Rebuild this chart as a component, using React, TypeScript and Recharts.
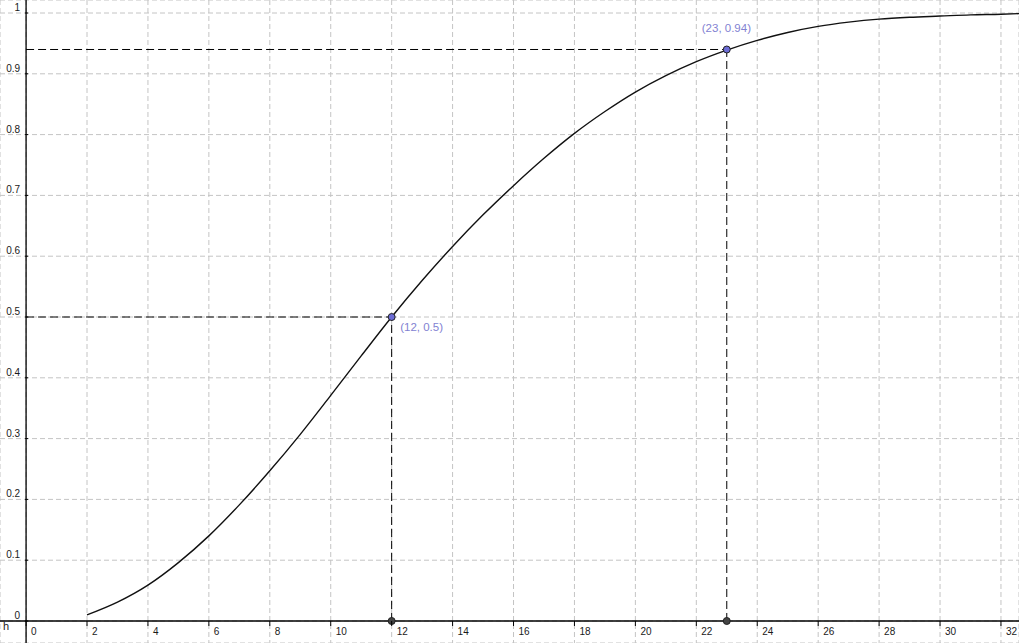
import { LineChart, Line, XAxis, YAxis, CartesianGrid, ReferenceLine, ReferenceDot } from 'recharts';

const W = 1019;
const H = 643;

// visible window of the graphics view
const X_MIN = -0.856;
const X_MAX = 32.592;
const Y_MIN = -0.0362;
const Y_MAX = 1.0214;

const hValues = [2, 3, 4, 5, 6, 7, 8, 9, 10, 11, 12, 13, 14, 15, 16, 17, 18, 19, 20, 21, 22, 23, 24, 25, 26, 27, 28, 29, 30, 31, 32, 32.6];
const pValues = [
  0.01, 0.031, 0.059, 0.096, 0.14, 0.191, 0.247, 0.307, 0.371, 0.436, 0.5, 0.56, 0.616, 0.668, 0.716, 0.761,
  0.802, 0.838, 0.87, 0.897, 0.92, 0.939, 0.955, 0.968, 0.978, 0.985, 0.99, 0.993, 0.995, 0.997, 0.998, 0.999,
];

const xTicks = [0, 2, 4, 6, 8, 10, 12, 14, 16, 18, 20, 22, 24, 26, 28, 30, 32];
const yTicks = [0, 0.1, 0.2, 0.3, 0.4, 0.5, 0.6, 0.7, 0.8, 0.9, 1];

const markedH = [12, 23];
const markedP = [0.5, 0.94];
const markedLabels = ['(12, 0.5)', '(23, 0.94)'];

const data = hValues.map((h, i) => ({ h, p: pValues[i] }));

const FONT = '"Liberation Sans", Arial, sans-serif';
const LABEL_BLUE = '#8282d2';

// pixel position of the axes (plot area == whole chart, no margins)
const X0 = (W * (0 - X_MIN)) / (X_MAX - X_MIN);
const Y0 = (H * Y_MAX) / (Y_MAX - Y_MIN);

function XTick(props: any) {
  const { x, payload } = props;
  return (
    <g>
      <line x1={x} x2={x} y1={Y0} y2={Y0 + 5} stroke="#000" />
      <text x={x + 5} y={Y0 + 14} fontSize={10} fontFamily={FONT} fill="#1a1a1a" textAnchor="start">
        {payload.value}
      </text>
    </g>
  );
}

function YTick(props: any) {
  const { y, payload } = props;
  return (
    <g>
      <line x1={X0 - 1} x2={X0 + 2} y1={y} y2={y} stroke="#000" />
      <text x={X0 - 6} y={y - 2} fontSize={10} fontFamily={FONT} fill="#1a1a1a" textAnchor="end">
        {payload.value}
      </text>
    </g>
  );
}

function pointLabel(text: string, dx: number, dy: number) {
  return (props: any) => {
    const vb = props.viewBox;
    const cx = vb.x + vb.width / 2;
    const cy = vb.y + vb.height / 2;
    return (
      <text x={cx + dx} y={cy + dy} fontSize={11.5} fontFamily={FONT} fill={LABEL_BLUE}>
        {text}
      </text>
    );
  };
}

const labelOffsets = [
  [8.5, 14],
  [-25, -17.5],
];

export default function App() {
  return (
    <div style={{ position: 'absolute', left: 0, top: 0, width: W, height: H, background: '#fff' }}>
      <LineChart width={W} height={H} data={data} margin={{ top: 0, right: 0, bottom: 0, left: 0 }}>
        <CartesianGrid stroke="#c4c4c4" strokeDasharray="5 3" />
        <XAxis
          type="number"
          dataKey="h"
          domain={[X_MIN, X_MAX]}
          allowDataOverflow
          ticks={xTicks}
          interval={0}
          mirror
          axisLine={false}
          tickLine={false}
          tick={XTick}
        />
        <YAxis
          type="number"
          domain={[Y_MIN, Y_MAX]}
          allowDataOverflow
          ticks={yTicks}
          interval={0}
          mirror
          axisLine={false}
          tickLine={false}
          tick={YTick}
        />
        {markedH.map((h, i) => (
          <ReferenceLine
            key={`hz-${i}`}
            segment={[{ x: 0, y: markedP[i] }, { x: h, y: markedP[i] }]}
            stroke="#000"
            strokeDasharray="8 4"
          />
        ))}
        {markedH.map((h, i) => (
          <ReferenceLine
            key={`vt-${i}`}
            segment={[{ x: h, y: 0 }, { x: h, y: markedP[i] }]}
            stroke="#000"
            strokeDasharray="8 4"
          />
        ))}
        <ReferenceLine x={0} stroke="#000" strokeWidth={1.3} />
        <ReferenceLine
          y={0}
          stroke="#000"
          strokeWidth={1.3}
          label={(props: any) => (
            <text x={props.viewBox.x + 3} y={props.viewBox.y + 9} fontSize={11} fontFamily={FONT} fill="#1a1a1a">
              h
            </text>
          )}
        />
        <Line
          type="monotone"
          dataKey="p"
          stroke="#111"
          strokeWidth={1.4}
          dot={false}
          activeDot={false}
          isAnimationActive={false}
        />
        {markedH.map((h, i) => (
          <ReferenceDot key={`base-${i}`} x={h} y={0} r={3.5} fill="#444" stroke="#222" strokeWidth={1} />
        ))}
        {markedH.map((h, i) => (
          <ReferenceDot
            key={`pt-${i}`}
            x={h}
            y={markedP[i]}
            r={3.5}
            fill="#6c6cd6"
            stroke="#222"
            strokeWidth={1}
            label={pointLabel(markedLabels[i], labelOffsets[i][0], labelOffsets[i][1])}
          />
        ))}
      </LineChart>
    </div>
  );
}
